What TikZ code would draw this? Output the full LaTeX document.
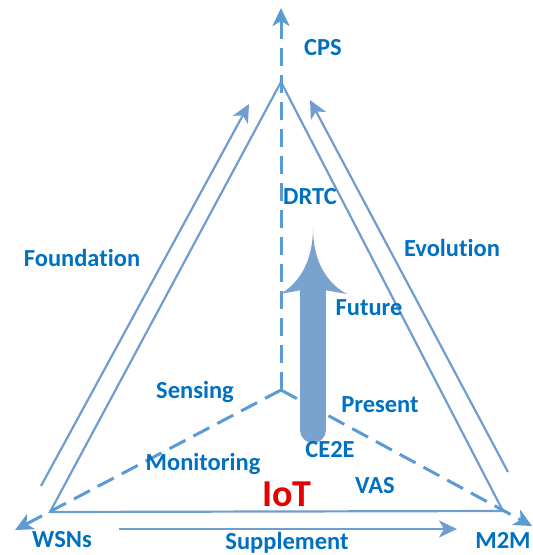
\documentclass[tikz,border=0pt]{standalone}
\usepackage{fontspec}
\setmainfont{Carlito}[Ligatures=NoCommon]
\usetikzlibrary{arrows.meta}
\definecolor{lineblue}{RGB}{112,156,210}
\definecolor{dashblue}{RGB}{91,155,213}
\definecolor{textblue}{RGB}{0,112,192}
\definecolor{bigblue}{RGB}{121,162,206}
\definecolor{iotred}{RGB}{232,0,0}
\newcommand{\edgewidth}{2.2pt}
\newcommand{\dashwidth}{3pt}
\newcommand{\shaftwidth}{26pt}

\begin{document}
\begin{tikzpicture}[x=1pt,y=-1pt,
  lbl/.style={text=textblue, font=\fontsize{24.5}{28}\selectfont\bfseries, inner sep=0pt},
  edge/.style={draw=lineblue, line width=\edgewidth, line join=miter},
  axis/.style={draw=dashblue, line width=\dashwidth, dash pattern=on 18pt off 9pt},
  tipped/.style={-{Stealth[length=18pt,width=17pt,inset=5pt]}}]
\useasboundingbox (0,0) rectangle (533,555);

% corners and centre
\coordinate (apex) at (281,82);
\coordinate (wsn) at (50,512);
\coordinate (m2m) at (503,511);
\coordinate (ctr) at (281,390);
\coordinate (topTip) at (281,8);
\coordinate (leftTip) at (15,530);
\coordinate (rightTip) at (532,526);

% triangle
\draw[edge] (apex) -- (wsn) -- (m2m) -- cycle;

% dashed axes
\draw[axis, tipped] (ctr) -- (topTip);
\draw[axis, tipped] (ctr) -- (leftTip);
\draw[axis, tipped] (ctr) -- (rightTip);

% outer arrows
\coordinate (foundA) at (41,486);
\coordinate (foundB) at (249,104);
\coordinate (evolA) at (508,472);
\coordinate (evolB) at (310,100);
\coordinate (suppA) at (119,529);
\coordinate (suppB) at (457,529);
\draw[edge, tipped] (foundA) -- (foundB);
\draw[edge, tipped] (evolA) -- (evolB);
\draw[edge, tipped] (suppA) -- (suppB);

% big arrow
\coordinate (bigBase) at (313,430);
\coordinate (bigNeck) at (313,288);
\coordinate (bigTip) at (313,228);
\draw[bigblue, line width=\shaftwidth, line cap=round] (bigBase) -- (bigNeck);
\fill[bigblue] (bigTip) .. controls (313,260) and (326,283) .. (347,294)
  -- (bigNeck) -- (280,294) .. controls (300,283) and (313,260) .. (bigTip) -- cycle;

% labels
\node[lbl] (cps) at (323,48) {CPS};
\node[lbl] (drtc) at (310,197) {DRTC};
\node[lbl] (found) at (82,258) {Foundation};
\node[lbl] (evol) at (452,248) {Evolution};
\node[lbl] (future) at (369,308) {Future};
\node[lbl] (sens) at (195,392) {Sensing};
\node[lbl] (pres) at (380,405) {Present};
\node[lbl] (ce2e) at (330,450) {CE2E};
\node[lbl] (monit) at (203,464) {Monitoring};
\node[lbl] (vas) at (375,486) {VAS};
\node[lbl, text=iotred, font=\fontsize{38}{42}\selectfont\bfseries] (iot) at (287,494) {IoT};
\node[lbl] (wsns) at (62,540) {WSNs};
\node[lbl] (supp) at (287,543) {Supplement};
\node[lbl] (m2ml) at (503,540) {M2M};

\end{tikzpicture}
\end{document}
